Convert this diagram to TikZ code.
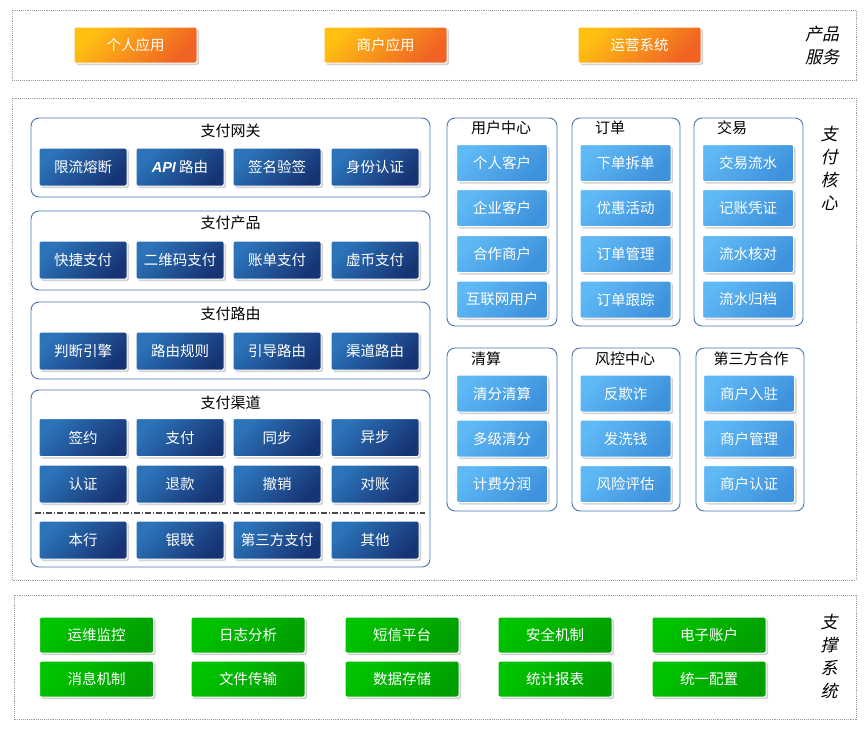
\documentclass[tikz,border=0pt]{standalone}
\usepackage{fontspec}
\setmainfont{Noto Sans CJK SC}
\newfontfamily\slantcjk[FakeSlant=0.22]{Noto Sans CJK SC}
\newfontfamily\latinsans{Liberation Sans}
\usetikzlibrary{shadows}

\definecolor{dkA}{RGB}{44,116,186}
\definecolor{dkB}{RGB}{22,52,116}
\definecolor{ltA}{RGB}{95,185,245}
\definecolor{ltB}{RGB}{62,145,220}
\definecolor{orA}{RGB}{255,192,18}
\definecolor{orB}{RGB}{240,98,36}
\definecolor{grA}{RGB}{0,196,0}
\definecolor{grB}{RGB}{0,158,0}
\definecolor{grpline}{RGB}{72,116,176}

\tikzset{
  frame/.style={draw=gray!75, densely dotted, line width=0.9pt},
  grp/.style={draw=grpline, rounded corners=8pt, line width=0.9pt},
  ttl/.style={font=\fontsize{15}{17}\selectfont, text=black},
  vlabel/.style={font=\slantcjk\fontsize{17}{23}\selectfont, align=center},
  btn/.style={rounded corners=2pt, draw=white, line width=1pt, text=white, inner sep=0pt,
    font=\fontsize{14.5}{17}\selectfont,
    drop shadow={shadow xshift=2pt, shadow yshift=-2pt, fill=black!35, opacity=0.5}},
  darkbtn/.style={btn, minimum width=88pt, minimum height=38pt,
    top color=dkA, bottom color=dkB, shading angle=45},
  lightbtn/.style={btn, minimum width=91pt, minimum height=37pt,
    top color=ltA, bottom color=ltB, shading angle=45},
  orangebtn/.style={btn, minimum width=123pt, minimum height=36pt,
    top color=orA, bottom color=orB, shading angle=45},
  greenbtn/.style={btn, minimum width=114pt, minimum height=36pt,
    top color=grA, bottom color=grB, shading angle=45}
}

\begin{document}
\begin{tikzpicture}[x=1pt,y=-1pt]
  \useasboundingbox (0,0) rectangle (866,731);

  % outer frames
  \draw[frame] (12,10) rectangle (856,80);   % product
  \draw[frame] (12,98) rectangle (856,580);  % core
  \draw[frame] (14,595) rectangle (856,719); % support

  \node[vlabel] (prodlbl) at (822,46) {产品\\服务};
  \node[vlabel] (corelbl) at (829,168) {支\\付\\核\\心};
  \node[vlabel] (supplbl) at (829,657) {支\\撑\\系\\统};

  % product service
  \foreach \x/\t [count=\i] in {135.5/个人应用, 385.5/商户应用, 639.5/运营系统}
    \node[orangebtn] (app\i) at (\x,45) {\t};

  % left groups
  \draw[grp] (31,118) rectangle (430,197);
  \draw[grp] (31,211) rectangle (430,290);
  \draw[grp] (31,302) rectangle (430,379);
  \draw[grp] (31,390) rectangle (430,567);
  \node[ttl] (gwttl) at (230.5,131) {支付网关};
  \node[ttl] (prttl) at (230.5,223) {支付产品};
  \node[ttl] (rtttl) at (230.5,314) {支付路由};
  \node[ttl] (chttl) at (230.5,403) {支付渠道};

  \foreach \x/\t [count=\i] in {83/限流熔断, 180/{{\latinsans\bfseries\itshape API} 路由}, 277/签名验签, 375/身份认证}
    \node[darkbtn] (gw\i) at (\x,167) {\t};
  \foreach \x/\t [count=\i] in {83/快捷支付, 180/二维码支付, 277/账单支付, 375/虚币支付}
    \node[darkbtn] (pr\i) at (\x,260) {\t};
  \foreach \x/\t [count=\i] in {83/判断引擎, 180/路由规则, 277/引导路由, 375/渠道路由}
    \node[darkbtn] (rt\i) at (\x,351) {\t};
  \foreach \x/\t [count=\i] in {83/签约, 180/支付, 277/同步, 375/异步}
    \node[darkbtn] (cha\i) at (\x,437.5) {\t};
  \foreach \x/\t [count=\i] in {83/认证, 180/退款, 277/撤销, 375/对账}
    \node[darkbtn] (chb\i) at (\x,484) {\t};
  \coordinate (sepL) at (35,513);
  \coordinate (sepR) at (425,513);
  \draw[gray!60!black, line width=1.2pt, dash pattern=on 6pt off 2pt on 1pt off 2pt] (sepL) -- (sepR);
  \foreach \x/\t [count=\i] in {83/本行, 180/银联, 277/第三方支付, 375/其他}
    \node[darkbtn] (chc\i) at (\x,540) {\t};

  % right groups, top row
  \draw[grp] (447,118) rectangle (557,326);
  \draw[grp] (572,118) rectangle (680,326);
  \draw[grp] (694,118) rectangle (803,326);
  \node[ttl] (userttl) at (501,128) {用户中心};
  \node[ttl] (ordttl) at (610,128) {订单};
  \node[ttl] (txttl) at (732,128) {交易};

  \foreach \y/\t [count=\i] in {163/个人客户, 208/企业客户, 254/合作商户, 299.5/互联网用户}
    \node[lightbtn] (user\i) at (502,\y) {\t};
  \foreach \y/\t [count=\i] in {163/下单拆单, 208/优惠活动, 254/订单管理, 299.5/订单跟踪}
    \node[lightbtn] (ord\i) at (625.5,\y) {\t};
  \foreach \y/\t [count=\i] in {163/交易流水, 208/记账凭证, 254/流水核对, 299.5/流水归档}
    \node[lightbtn] (tx\i) at (748,\y) {\t};

  % right groups, bottom row
  \draw[grp] (447,348) rectangle (557,511);
  \draw[grp] (572,348) rectangle (680,511);
  \draw[grp] (696,348) rectangle (804,511);
  \node[ttl] (clrttl) at (486,359) {清算};
  \node[ttl] (riskttl) at (625,359) {风控中心};
  \node[ttl] (thdttl) at (751,359) {第三方合作};

  \foreach \y/\t [count=\i] in {393.5/清分清算, 438.5/多级清分, 484/计费分润}
    \node[lightbtn] (clr\i) at (502,\y) {\t};
  \foreach \y/\t [count=\i] in {393.5/反欺诈, 438.5/发洗钱, 484/风险评估}
    \node[lightbtn] (risk\i) at (625.5,\y) {\t};
  \foreach \y/\t [count=\i] in {393.5/商户入驻, 438.5/商户管理, 484/商户认证}
    \node[lightbtn] (thd\i) at (749,\y) {\t};

  % support system
  \foreach \x/\t [count=\i] in {96.5/运维监控, 248/日志分析, 402/短信平台, 555/安全机制, 709/电子账户}
    \node[greenbtn] (supa\i) at (\x,635) {\t};
  \foreach \x/\t [count=\i] in {96.5/消息机制, 248/文件传输, 402/数据存储, 555/统计报表, 709/统一配置}
    \node[greenbtn] (supb\i) at (\x,679) {\t};
\end{tikzpicture}
\end{document}
